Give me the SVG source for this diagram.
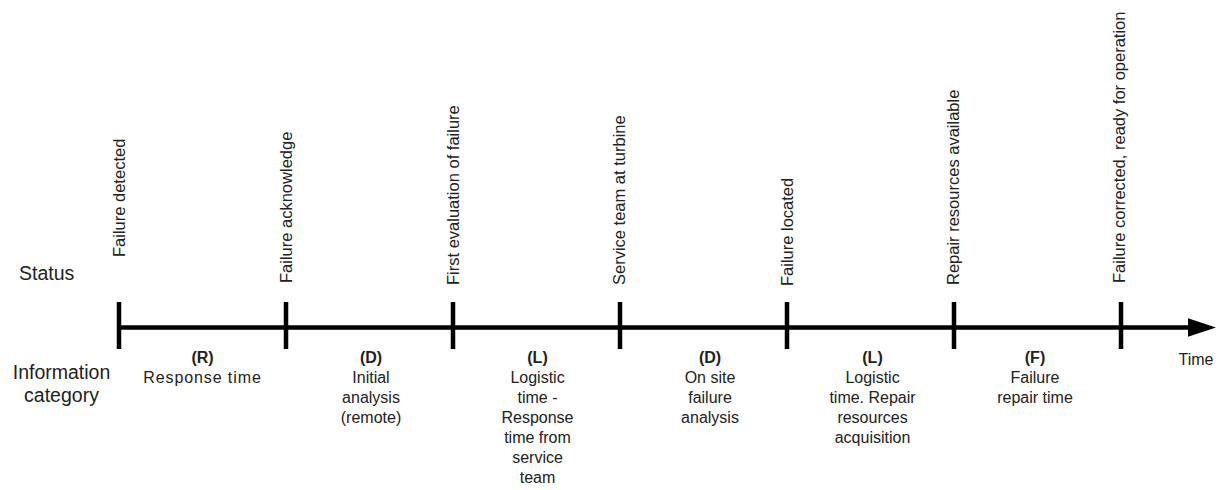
<svg xmlns="http://www.w3.org/2000/svg" width="1219" height="490" viewBox="0 0 1219 490">
<style>
text{font-family:"Liberation Sans",Arial,sans-serif;fill:#222}
.v{font-size:16.5px}
.h{font-size:19.5px}
.c{font-size:16px;text-anchor:middle}
.b{font-weight:bold}
.tick{stroke:#000;stroke-width:4.5}
.axis{stroke:#000;stroke-width:4.5;fill:none}
</style>
<defs>
<marker id="ah" markerUnits="userSpaceOnUse" markerWidth="30" markerHeight="20" refX="0" refY="10" orient="auto" viewBox="0 0 30 20">
<polygon points="0,0.7 28,10 0,19.3" fill="#000"/>
</marker>
</defs>
<rect width="1219" height="490" fill="#fff"/>
<g id="row-labels">
<text class="h" x="19" y="280">Status</text>
<text class="h" x="61.5" y="379" text-anchor="middle">Information</text>
<text class="h" x="61.5" y="402" text-anchor="middle">category</text>
</g>
<g id="connectors">
<line class="axis" x1="119" y1="327.5" x2="1188" y2="327.5" marker-end="url(#ah)"/>
<text class="c" x="1196" y="365">Time</text>
</g>
<g id="m1"><line class="tick" x1="119" y1="302" x2="119" y2="349"/><text class="v" transform="translate(125,257) rotate(-90)">Failure detected</text></g>
<g id="m2"><line class="tick" x1="286" y1="302" x2="286" y2="349"/><text class="v" transform="translate(292,283) rotate(-90)">Failure acknowledge</text></g>
<g id="m3"><line class="tick" x1="453" y1="302" x2="453" y2="349"/><text class="v" transform="translate(458.7,285) rotate(-90)">First evaluation of failure</text></g>
<g id="m4"><line class="tick" x1="620" y1="302" x2="620" y2="349"/><text class="v" transform="translate(625.3,285) rotate(-90)">Service team at turbine</text></g>
<g id="m5"><line class="tick" x1="787" y1="302" x2="787" y2="349"/><text class="v" transform="translate(792.5,286) rotate(-90)">Failure located</text></g>
<g id="m6"><line class="tick" x1="954" y1="302" x2="954" y2="349"/><text class="v" transform="translate(958.7,285) rotate(-90)">Repair resources available</text></g>
<g id="m7"><line class="tick" x1="1121" y1="302" x2="1121" y2="349"/><text class="v" transform="translate(1125.3,283) rotate(-90)">Failure corrected, ready for operation</text></g>
<g id="p1"><text class="c b" x="202.5" y="363">(R)</text><text class="c" x="202.5" y="383" letter-spacing="0.9">Response time</text></g>
<g id="p2"><text class="c b" x="371" y="363">(D)</text><text class="c" x="371" y="383">Initial</text><text class="c" x="371" y="403">analysis</text><text class="c" x="371" y="423">(remote)</text></g>
<g id="p3"><text class="c b" x="537.5" y="363">(L)</text><text class="c" x="537.5" y="383">Logistic</text><text class="c" x="537.5" y="403">time -</text><text class="c" x="537.5" y="423">Response</text><text class="c" x="537.5" y="443">time from</text><text class="c" x="537.5" y="463">service</text><text class="c" x="537.5" y="483">team</text></g>
<g id="p4"><text class="c b" x="710" y="363">(D)</text><text class="c" x="710" y="383">On site</text><text class="c" x="710" y="403">failure</text><text class="c" x="710" y="423">analysis</text></g>
<g id="p5"><text class="c b" x="872.5" y="363">(L)</text><text class="c" x="872.5" y="383">Logistic</text><text class="c" x="872.5" y="403">time. Repair</text><text class="c" x="872.5" y="423">resources</text><text class="c" x="872.5" y="443">acquisition</text></g>
<g id="p6"><text class="c b" x="1035" y="363">(F)</text><text class="c" x="1035" y="383">Failure</text><text class="c" x="1035" y="403">repair time</text></g>
</svg>
